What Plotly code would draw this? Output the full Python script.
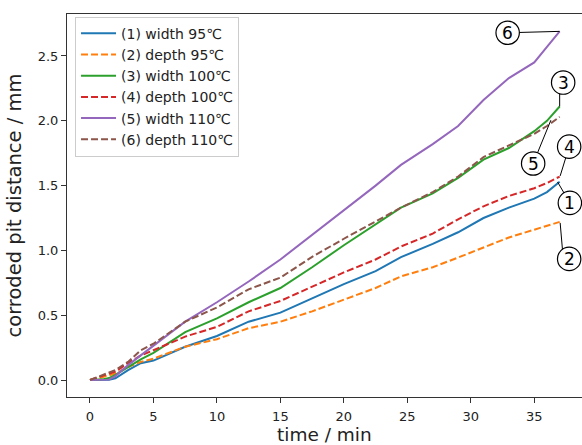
import plotly.graph_objects as go

time_min = [0, 1, 1.5, 2, 3, 4, 5, 7.5, 10, 12.5, 15, 17.5, 20, 22.5, 24.5, 27, 29, 31, 33, 35, 36, 37]

width_95 = [0, 0, 0.002, 0.013, 0.077, 0.13, 0.15, 0.257, 0.34, 0.45, 0.52, 0.63, 0.74, 0.84, 0.948, 1.05, 1.14, 1.25, 1.33, 1.40, 1.45, 1.53]
depth_95 = [0, 0.02, 0.035, 0.05, 0.10, 0.14, 0.165, 0.257, 0.315, 0.40, 0.45, 0.53, 0.62, 0.71, 0.80, 0.87, 0.945, 1.02, 1.10, 1.16, 1.19, 1.22]
width_100 = [0, 0.005, 0.015, 0.04, 0.10, 0.16, 0.21, 0.37, 0.475, 0.60, 0.71, 0.87, 1.04, 1.20, 1.33, 1.44, 1.56, 1.70, 1.79, 1.92, 2.00, 2.11]
depth_100 = [0, 0.03, 0.045, 0.065, 0.13, 0.19, 0.23, 0.335, 0.41, 0.53, 0.61, 0.72, 0.83, 0.93, 1.03, 1.13, 1.24, 1.34, 1.42, 1.48, 1.52, 1.57]
width_110 = [0, 0, 0.003, 0.03, 0.115, 0.19, 0.265, 0.45, 0.60, 0.76, 0.93, 1.12, 1.31, 1.50, 1.66, 1.82, 1.96, 2.16, 2.33, 2.45, 2.57, 2.69]
depth_110 = [0, 0.04, 0.055, 0.077, 0.14, 0.23, 0.28, 0.45, 0.56, 0.70, 0.79, 0.95, 1.09, 1.22, 1.33, 1.45, 1.57, 1.72, 1.81, 1.90, 1.96, 2.03]

series_names = ["(1) width 95℃", "(2) depth 95℃", "(3) width 100℃",
                "(4) depth 100℃", "(5) width 110℃", "(6) depth 110℃"]
series_values = [width_95, depth_95, width_100, depth_100, width_110, depth_110]
colors = ["#1f77b4", "#ff7f0e", "#2ca02c", "#d62728", "#9467bd", "#8c564b"]
dashes = ["solid", "7px,3px", "solid", "7px,3px", "solid", "7px,3px"]

x_ticks = [0, 5, 10, 15, 20, 25, 30, 35]
y_ticks = [0.0, 0.5, 1.0, 1.5, 2.0, 2.5]
x_title = "time / min"
y_title = "corroded pit distance / mm"

# callout labels: (label, series index, circle offset px (dx right, dy down), line start px, line end px)
callouts = [
    ("6", 4, (-52, 1.4), (-52, 1.4), (0, 0)),
    ("3", 2, (3.5, -24), (0, -14), (0, 0)),
    ("5", 5, (-26.5, 46.6), (-26.5, 46.6), (-8.8, 3.3)),
    ("4", 3, (9.5, -29.9), (9.5, -29.9), (0.5, -0.6)),
    ("1", 0, (10.2, 21.2), (10.2, 21.2), (-2.1, 0.2)),
    ("2", 1, (9.5, 37), (3, 30), (0.5, 1)),
]

FONT = "DejaVu Sans"
fig = go.Figure()
for name, vals, c, d in zip(series_names, series_values, colors, dashes):
    fig.add_trace(go.Scatter(x=time_min, y=vals, mode="lines", name=name,
                             line=dict(color=c, width=2, dash=d)))

R = 11.7
shapes = []
annotations = []
for label, idx, circ, ls, le in callouts:
    xa = time_min[-1]
    ya = series_values[idx][-1]
    shapes.append(dict(type="line", xref="x", yref="y", xsizemode="pixel", ysizemode="pixel",
                       xanchor=xa, yanchor=ya, x0=ls[0], y0=-ls[1], x1=le[0], y1=-le[1],
                       line=dict(color="black", width=1), layer="above"))
for label, idx, circ, ls, le in callouts:
    xa = time_min[-1]
    ya = series_values[idx][-1]
    shapes.append(dict(type="circle", xref="x", yref="y", xsizemode="pixel", ysizemode="pixel",
                       xanchor=xa, yanchor=ya, x0=circ[0] - R, x1=circ[0] + R,
                       y0=-circ[1] - R, y1=-circ[1] + R,
                       line=dict(color="black", width=1.2), fillcolor="white", layer="above"))
    annotations.append(dict(x=xa, y=ya, xref="x", yref="y", text=label, showarrow=False,
                            xshift=circ[0], yshift=-circ[1], xanchor="center", yanchor="middle",
                            font=dict(family=FONT, size=17, color="black")))

# x-axis title as a paper-anchored text
annotations.append(dict(x=0.5, y=0, xref="paper", yref="paper", text=x_title, showarrow=False,
                        xanchor="center", yanchor="middle", yshift=-37,
                        font=dict(family=FONT, size=18.5, color="#222")))

axis_common = dict(showline=True, linecolor="#333", linewidth=1, mirror=True,
                   ticks="outside", ticklen=5, tickwidth=1, tickcolor="#333",
                   showgrid=False, zeroline=False,
                   tickfont=dict(family=FONT, size=13, color="#222"))

fig.update_layout(
    width=582, height=445,
    margin=dict(l=67, r=0, t=14, b=48),
    paper_bgcolor="white", plot_bgcolor="white",
    font=dict(family=FONT, color="#222"),
    xaxis=dict(range=[-1.81, 38.76], tickvals=x_ticks, ticklabelstandoff=2,
               **axis_common),
    yaxis=dict(range=[-0.131, 2.824], tickvals=y_ticks, tickformat=".1f",
               title=dict(text=y_title, font=dict(family=FONT, size=19.5, color="#222"), standoff=10),
               **axis_common),
    legend=dict(x=0.0156, y=0.993, xanchor="left", yanchor="top",
                bgcolor="rgba(255,255,255,0.85)", bordercolor="#cccccc", borderwidth=1,
                font=dict(family=FONT, size=14, color="#222"), itemwidth=35),
    shapes=shapes, annotations=annotations,
    showlegend=True,
)
fig.update_xaxes(automargin=False)
fig.update_yaxes(automargin=False)

fig.write_html("out.html", config={"displayModeBar": False},
               post_script="document.body.style.margin='0';document.body.style.overflow='hidden';")
